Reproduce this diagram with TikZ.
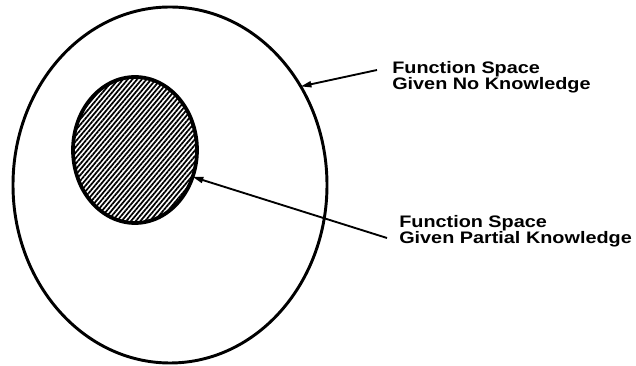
\documentclass[tikz,border=0pt]{standalone}
\usepackage{fontspec}
\newfontfamily\labfont[FakeStretch=1.19]{Liberation Sans}
\newcommand\labstyle{\labfont\bfseries\fontsize{12.5pt}{11.8pt}\selectfont\lineskiplimit=-20pt\relax\lineskip=0pt\relax}
\usetikzlibrary{shapes.geometric,patterns.meta,arrows.meta}
\begin{document}
\begin{tikzpicture}[x=0.75pt,y=-0.75pt,
  region/.style={ellipse,draw=black,inner sep=0pt,outer sep=0pt},
  lbl/.style={anchor=north west,inner sep=0pt,align=left,font=\labstyle},
  pointer/.style={line width=1.4pt,-{Triangle[length=8pt,width=4.5pt]}}]
\useasboundingbox (0,0) rectangle (636,366);
\node[region,line width=2.2pt,minimum width=235.5pt,minimum height=267pt] (outer) at (170,185) {};
\node[region,line width=2.8pt,minimum width=93pt,minimum height=109.5pt,
  pattern={Lines[angle=50,distance=2.7pt,line width=1.3pt]}] (inner) at (135,150) {};
\node[lbl] (l1) at (392,61.5) {Function Space\\Given No Knowledge};
\node[lbl] (l2) at (399,215) {Function Space\\Given Partial Knowledge};
\coordinate (t1) at (377,70);
\coordinate (t2) at (387,238);
\draw[pointer] (t1) -- (outer.37);
\draw[pointer] (t2) -- (inner.-25);
\end{tikzpicture}
\end{document}
